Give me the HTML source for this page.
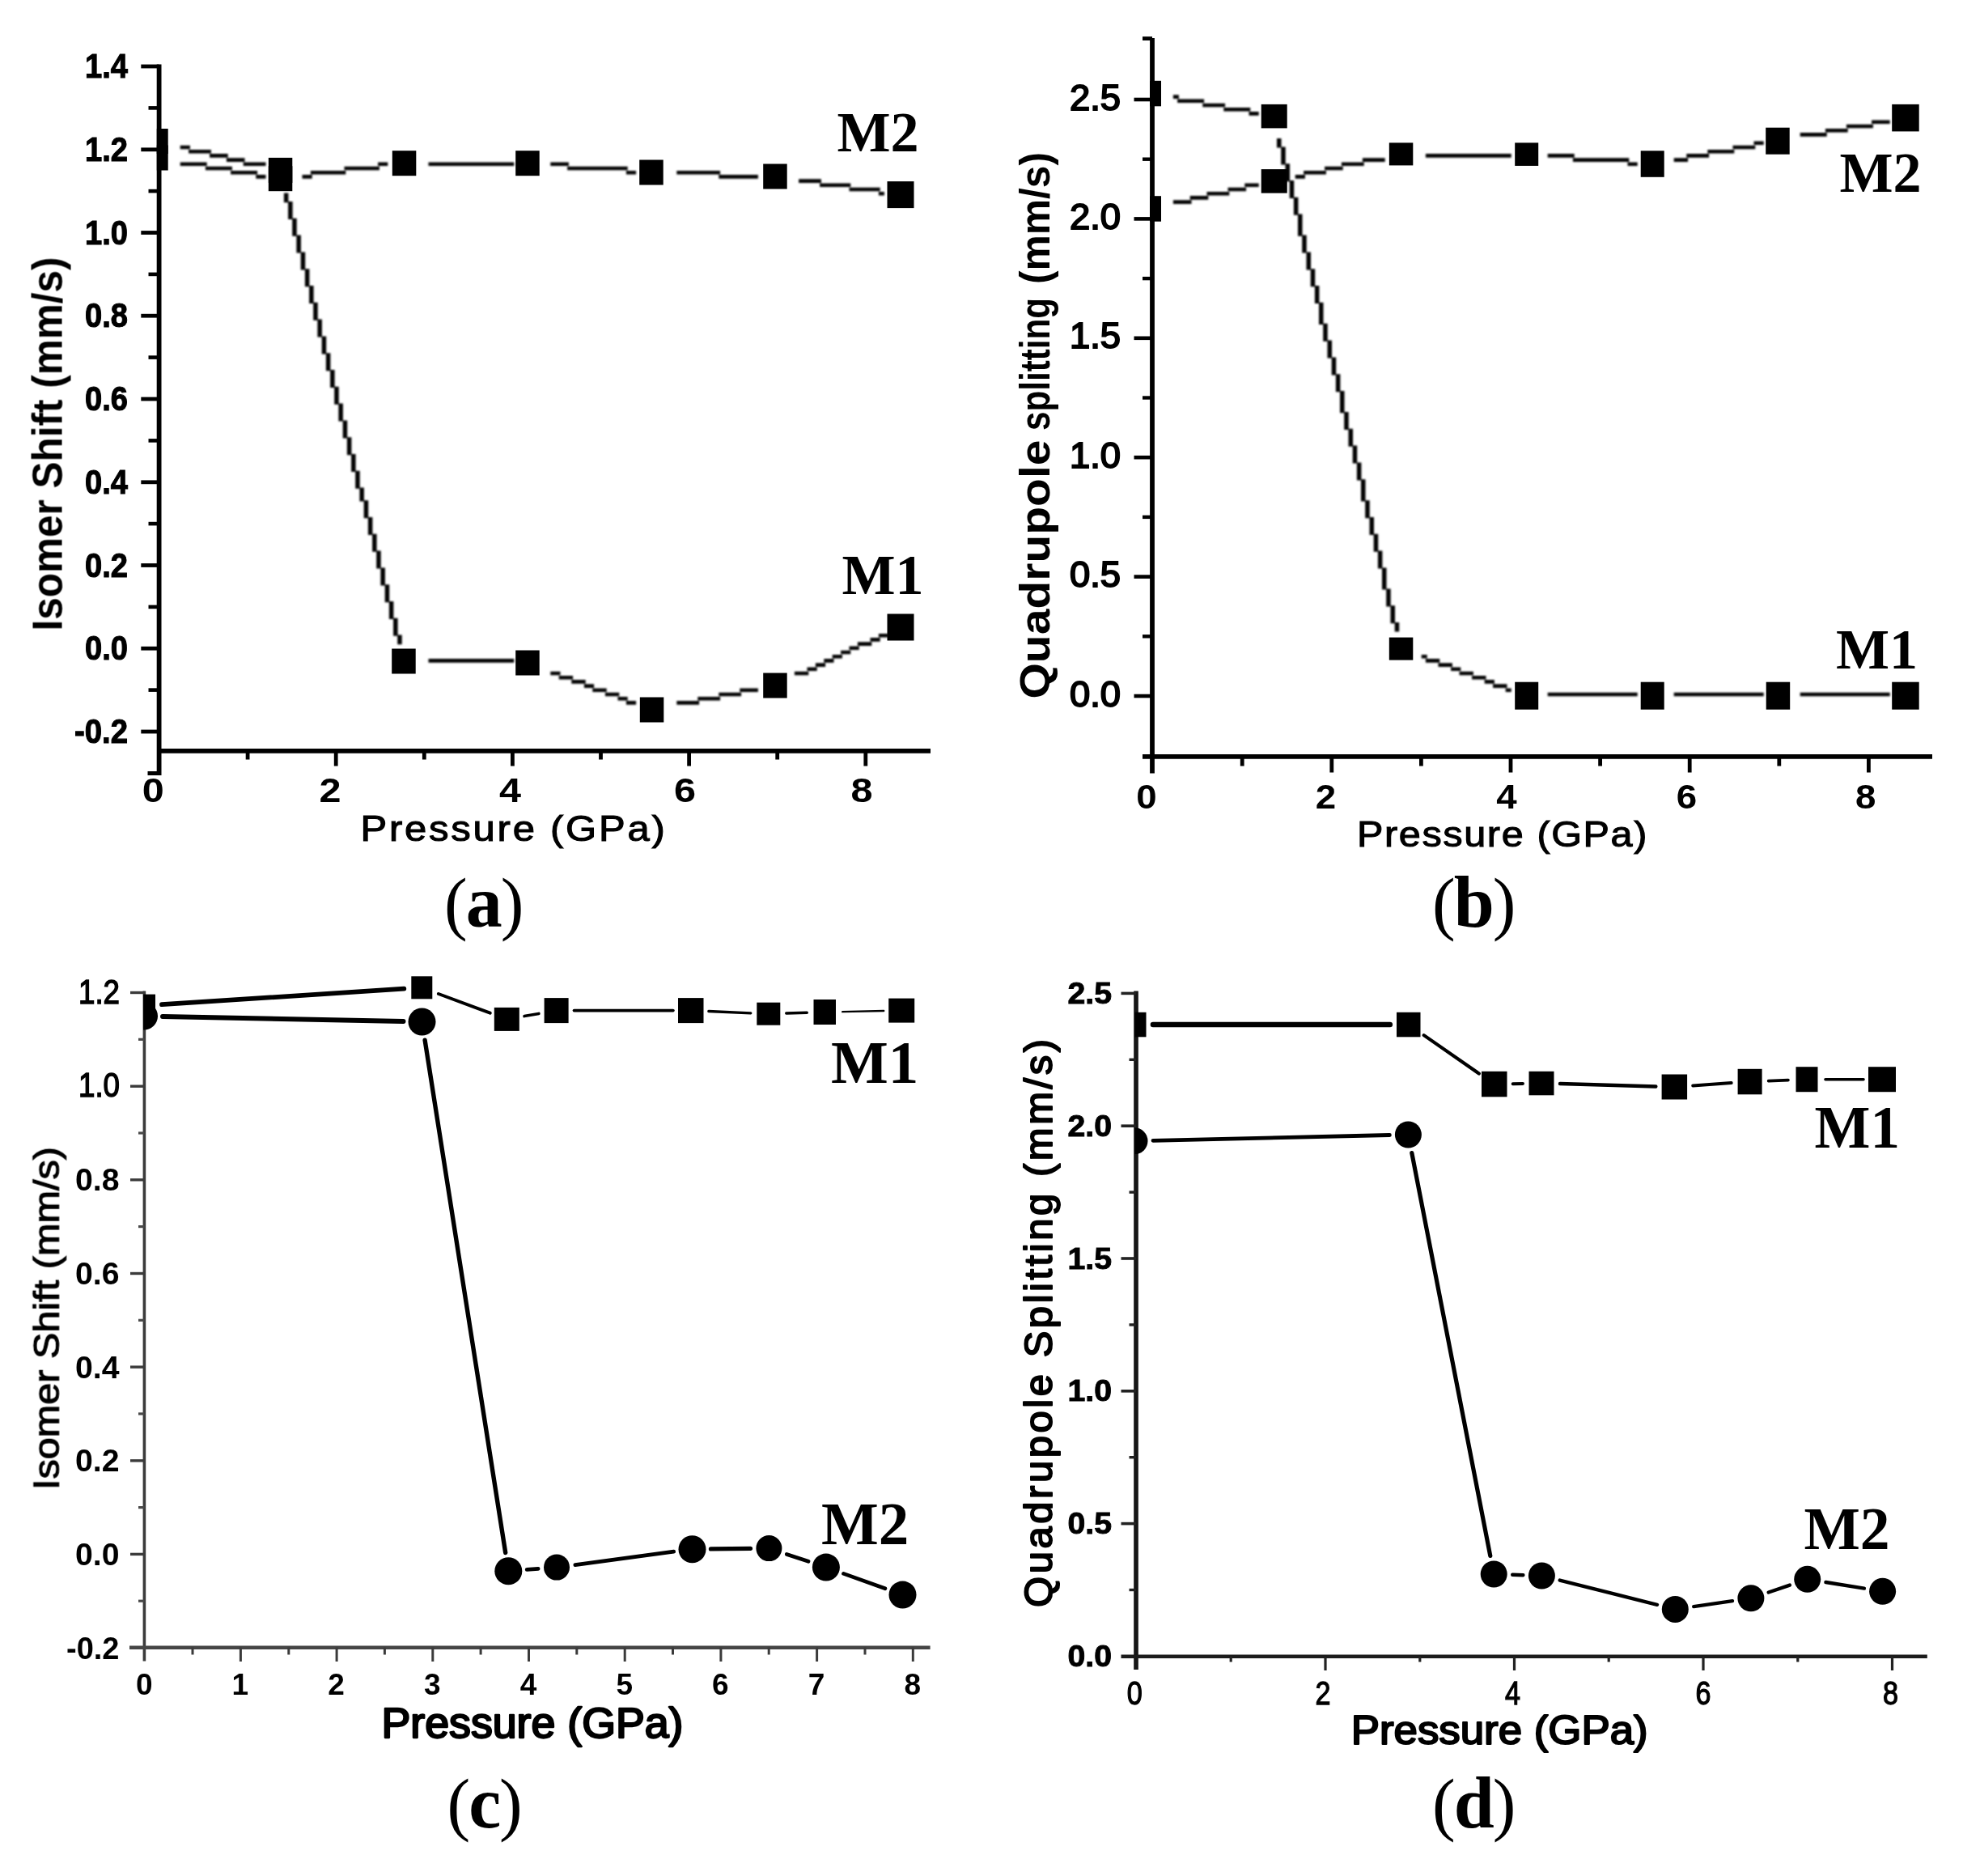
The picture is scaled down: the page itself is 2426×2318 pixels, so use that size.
<!DOCTYPE html>
<html lang="en">
<head>
<meta charset="utf-8">
<title>Isomer shift and quadrupole splitting versus pressure</title>
<style>
html,body{margin:0;padding:0;background:#fff;}
body{width:2426px;height:2318px;overflow:hidden;}
svg{display:block;}
text{fill:#000;}
</style>
</head>
<body>
<svg width="2426" height="2318" viewBox="0 0 2426 2318">
<defs>
<filter id="b1" x="-2%" y="-2%" width="104%" height="104%"><feGaussianBlur stdDeviation="0.7"/></filter>
<filter id="b2" x="-50%" y="-50%" width="200%" height="200%"><feGaussianBlur stdDeviation="0.8"/></filter>
<clipPath id="cA"><rect x="193.8" y="0" width="1100" height="1000"/></clipPath>
<clipPath id="cB"><rect x="1421" y="0" width="1100" height="1000"/></clipPath>
<clipPath id="cC"><rect x="177" y="1160" width="1100" height="1000"/></clipPath>
<clipPath id="cD"><rect x="1402.5" y="1160" width="1100" height="1000"/></clipPath>
</defs>
<rect x="0" y="0" width="2426" height="2318" fill="#fff"/>
<g filter="url(#b1)">
<line x1="196.6" y1="79.5" x2="196.6" y2="958" stroke="#000" stroke-width="5.8" stroke-linecap="butt"/>
<line x1="194.1" y1="927.8" x2="1150" y2="927.8" stroke="#000" stroke-width="5.8" stroke-linecap="butt"/>
<line x1="174.3" y1="82" x2="196.6" y2="82" stroke="#000" stroke-width="4.8" stroke-linecap="butt"/>
<line x1="174.3" y1="184.8" x2="196.6" y2="184.8" stroke="#000" stroke-width="4.8" stroke-linecap="butt"/>
<line x1="174.3" y1="287.5" x2="196.6" y2="287.5" stroke="#000" stroke-width="4.8" stroke-linecap="butt"/>
<line x1="174.3" y1="390.2" x2="196.6" y2="390.2" stroke="#000" stroke-width="4.8" stroke-linecap="butt"/>
<line x1="174.3" y1="493" x2="196.6" y2="493" stroke="#000" stroke-width="4.8" stroke-linecap="butt"/>
<line x1="174.3" y1="595.8" x2="196.6" y2="595.8" stroke="#000" stroke-width="4.8" stroke-linecap="butt"/>
<line x1="174.3" y1="698.5" x2="196.6" y2="698.5" stroke="#000" stroke-width="4.8" stroke-linecap="butt"/>
<line x1="174.3" y1="801.2" x2="196.6" y2="801.2" stroke="#000" stroke-width="4.8" stroke-linecap="butt"/>
<line x1="174.3" y1="904" x2="196.6" y2="904" stroke="#000" stroke-width="4.8" stroke-linecap="butt"/>
<line x1="183.5" y1="133.4" x2="196.6" y2="133.4" stroke="#000" stroke-width="4.6" stroke-linecap="butt"/>
<line x1="183.5" y1="236.1" x2="196.6" y2="236.1" stroke="#000" stroke-width="4.6" stroke-linecap="butt"/>
<line x1="183.5" y1="338.9" x2="196.6" y2="338.9" stroke="#000" stroke-width="4.6" stroke-linecap="butt"/>
<line x1="183.5" y1="441.6" x2="196.6" y2="441.6" stroke="#000" stroke-width="4.6" stroke-linecap="butt"/>
<line x1="183.5" y1="544.4" x2="196.6" y2="544.4" stroke="#000" stroke-width="4.6" stroke-linecap="butt"/>
<line x1="183.5" y1="647.1" x2="196.6" y2="647.1" stroke="#000" stroke-width="4.6" stroke-linecap="butt"/>
<line x1="183.5" y1="749.9" x2="196.6" y2="749.9" stroke="#000" stroke-width="4.6" stroke-linecap="butt"/>
<line x1="183.5" y1="852.6" x2="196.6" y2="852.6" stroke="#000" stroke-width="4.6" stroke-linecap="butt"/>
<line x1="182.5" y1="955.5" x2="196.6" y2="955.5" stroke="#000" stroke-width="5" stroke-linecap="butt"/>
<line x1="306.1" y1="927.8" x2="306.1" y2="938.5" stroke="#000" stroke-width="4.8" stroke-linecap="butt"/>
<line x1="415.2" y1="927.8" x2="415.2" y2="946.5" stroke="#000" stroke-width="4.8" stroke-linecap="butt"/>
<line x1="524.3" y1="927.8" x2="524.3" y2="938.5" stroke="#000" stroke-width="4.8" stroke-linecap="butt"/>
<line x1="633.4" y1="927.8" x2="633.4" y2="946.5" stroke="#000" stroke-width="4.8" stroke-linecap="butt"/>
<line x1="742.5" y1="927.8" x2="742.5" y2="938.5" stroke="#000" stroke-width="4.8" stroke-linecap="butt"/>
<line x1="851.6" y1="927.8" x2="851.6" y2="946.5" stroke="#000" stroke-width="4.8" stroke-linecap="butt"/>
<line x1="960.7" y1="927.8" x2="960.7" y2="938.5" stroke="#000" stroke-width="4.8" stroke-linecap="butt"/>
<line x1="1069.8" y1="927.8" x2="1069.8" y2="946.5" stroke="#000" stroke-width="4.8" stroke-linecap="butt"/>
<path filter="url(#b2)" d="M222.7 200.5h33v4.6h-33zM253.9 205.7h33v4.6h-33zM285.1 210.9h33v4.6h-33zM316.3 216.1h12.2v4.6h-12.2z"/>
<path filter="url(#b2)" d="M373.5 216.1h12.2v4.6h-12.2zM383.9 210.9h43.4v4.6h-43.4zM425.5 205.7h43.4v4.6h-43.4zM467.1 200.5h12.2v4.6h-12.2z"/>
<path filter="url(#b2)" d="M529.5 200.5h105.8v4.6h-105.8z"/>
<path filter="url(#b2)" d="M680.3 200.5h22.6v4.6h-22.6zM701.1 205.7h74.6v4.6h-74.6zM773.9 210.9h12.2v4.6h-12.2z"/>
<path filter="url(#b2)" d="M836.3 210.9h53.8v4.6h-53.8zM888.3 216.1h48.6v4.6h-48.6z"/>
<path filter="url(#b2)" d="M987.1 221.3h27.8v4.6h-27.8zM1013.1 226.5h38.2v4.6h-38.2zM1049.5 231.7h38.2v4.6h-38.2zM1085.9 236.9h7v4.6h-7z"/>
<path filter="url(#b2)" d="M222.7 179.7h12.2v4.6h-12.2zM233.1 184.9h27.8v4.6h-27.8zM259.1 190.1h22.6v4.6h-22.6zM279.9 195.3h22.6v4.6h-22.6zM300.7 200.5h27.8v4.6h-27.8z"/>
<path filter="url(#b2)" d="M350.9 238.6v11.6h5.5v-11.6zM356.1 249v22h5.5v-22zM361.2 269.8v22h5.5v-22zM366.4 290.6v22h5.5v-22zM371.7 311.4v22h5.5v-22zM376.9 332.2v22h5.5v-22zM382.1 353v22h5.5v-22zM387.2 373.8v22h5.5v-22zM392.4 394.6v22h5.5v-22zM397.7 415.4v22h5.5v-22zM402.9 436.2v22h5.5v-22zM408.1 457v22h5.5v-22zM413.2 477.8v22h5.5v-22zM418.4 498.6v22h5.5v-22zM423.7 519.4v22h5.5v-22zM428.9 540.2v22h5.5v-22zM434.1 561v22h5.5v-22zM439.2 581.8v22h5.5v-22zM444.4 602.6v16.8h5.5v-16.8zM449.7 618.2v22h5.5v-22zM454.9 639v22h5.5v-22zM460.1 659.8v22h5.5v-22zM465.2 680.6v22h5.5v-22zM470.4 701.4v22h5.5v-22zM475.7 722.2v22h5.5v-22zM480.9 743v22h5.5v-22zM486.1 763.8v22h5.5v-22zM491.2 784.6v11.6h5.5v-11.6z"/>
<path filter="url(#b2)" d="M529.5 814.1h105.8v4.6h-105.8z"/>
<path filter="url(#b2)" d="M680.3 829.7h12.2v4.6h-12.2zM690.7 834.9h17.4v4.6h-17.4zM706.3 840.1h17.4v4.6h-17.4zM721.9 845.3h12.2v4.6h-12.2zM732.3 850.5h17.4v4.6h-17.4zM747.9 855.7h17.4v4.6h-17.4zM763.5 860.9h12.2v4.6h-12.2zM773.9 866.1h12.2v4.6h-12.2z"/>
<path filter="url(#b2)" d="M836.3 866.1h27.8v4.6h-27.8zM862.3 860.9h27.8v4.6h-27.8zM888.3 855.7h27.8v4.6h-27.8zM914.3 850.5h22.6v4.6h-22.6z"/>
<path filter="url(#b2)" d="M981.9 829.7h17.4v4.6h-17.4zM997.5 824.5h12.2v4.6h-12.2zM1007.9 819.3h12.2v4.6h-12.2zM1018.3 814.1h12.2v4.6h-12.2zM1028.7 808.9h12.2v4.6h-12.2zM1039.1 803.7h12.2v4.6h-12.2zM1049.5 798.5h12.2v4.6h-12.2zM1059.9 793.3h17.4v4.6h-17.4zM1075.5 788.1h12.2v4.6h-12.2zM1085.9 782.9h12.2v4.6h-12.2z"/>
<g clip-path="url(#cA)">
<rect x="178.2" y="179.5" width="29.5" height="31"/>
<rect x="331.8" y="205.2" width="29.5" height="31"/>
<rect x="484.8" y="186.2" width="29.5" height="31"/>
<rect x="637.2" y="186.2" width="29.5" height="31"/>
<rect x="790.2" y="197.5" width="29.5" height="31"/>
<rect x="943.2" y="202.5" width="29.5" height="31"/>
<rect x="1096.5" y="224.1" width="33" height="33"/>
<rect x="178.2" y="159" width="29.5" height="31"/>
<rect x="331.8" y="194.9" width="29.5" height="31"/>
<rect x="484.2" y="801.5" width="29.5" height="31"/>
<rect x="637.2" y="803.5" width="29.5" height="31"/>
<rect x="790.8" y="861.5" width="29.5" height="31"/>
<rect x="943.2" y="831.5" width="29.5" height="31"/>
<rect x="1096.5" y="758.5" width="33" height="33"/>
</g>
<text x="158" y="96" font-size="42" font-weight="bold" font-family='"Liberation Sans", Arial, sans-serif' text-anchor="end" textLength="53" lengthAdjust="spacingAndGlyphs" stroke="#000" stroke-width="1.1">1.4</text>
<text x="158" y="198.8" font-size="42" font-weight="bold" font-family='"Liberation Sans", Arial, sans-serif' text-anchor="end" textLength="53" lengthAdjust="spacingAndGlyphs" stroke="#000" stroke-width="1.1">1.2</text>
<text x="158" y="301.5" font-size="42" font-weight="bold" font-family='"Liberation Sans", Arial, sans-serif' text-anchor="end" textLength="53" lengthAdjust="spacingAndGlyphs" stroke="#000" stroke-width="1.1">1.0</text>
<text x="158" y="404.2" font-size="42" font-weight="bold" font-family='"Liberation Sans", Arial, sans-serif' text-anchor="end" textLength="53" lengthAdjust="spacingAndGlyphs" stroke="#000" stroke-width="1.1">0.8</text>
<text x="158" y="507" font-size="42" font-weight="bold" font-family='"Liberation Sans", Arial, sans-serif' text-anchor="end" textLength="53" lengthAdjust="spacingAndGlyphs" stroke="#000" stroke-width="1.1">0.6</text>
<text x="158" y="609.8" font-size="42" font-weight="bold" font-family='"Liberation Sans", Arial, sans-serif' text-anchor="end" textLength="53" lengthAdjust="spacingAndGlyphs" stroke="#000" stroke-width="1.1">0.4</text>
<text x="158" y="712.5" font-size="42" font-weight="bold" font-family='"Liberation Sans", Arial, sans-serif' text-anchor="end" textLength="53" lengthAdjust="spacingAndGlyphs" stroke="#000" stroke-width="1.1">0.2</text>
<text x="158" y="815.2" font-size="42" font-weight="bold" font-family='"Liberation Sans", Arial, sans-serif' text-anchor="end" textLength="53" lengthAdjust="spacingAndGlyphs" stroke="#000" stroke-width="1.1">0.0</text>
<text x="158" y="918" font-size="42" font-weight="bold" font-family='"Liberation Sans", Arial, sans-serif' text-anchor="end" textLength="66" lengthAdjust="spacingAndGlyphs" stroke="#000" stroke-width="1.1">-0.2</text>
<text x="175.8" y="991" font-size="43" font-weight="bold" font-family='"Liberation Sans", Arial, sans-serif' text-anchor="start" textLength="27" lengthAdjust="spacingAndGlyphs" >0</text>
<text x="394.5" y="991" font-size="43" font-weight="bold" font-family='"Liberation Sans", Arial, sans-serif' text-anchor="start" textLength="27" lengthAdjust="spacingAndGlyphs" >2</text>
<text x="617" y="991" font-size="43" font-weight="bold" font-family='"Liberation Sans", Arial, sans-serif' text-anchor="start" textLength="27" lengthAdjust="spacingAndGlyphs" >4</text>
<text x="833" y="991" font-size="43" font-weight="bold" font-family='"Liberation Sans", Arial, sans-serif' text-anchor="start" textLength="27" lengthAdjust="spacingAndGlyphs" >6</text>
<text x="1051.5" y="991" font-size="43" font-weight="bold" font-family='"Liberation Sans", Arial, sans-serif' text-anchor="start" textLength="27" lengthAdjust="spacingAndGlyphs" >8</text>
<text x="445.5" y="1039" font-size="44" font-weight="normal" font-family='"Liberation Sans", Arial, sans-serif' text-anchor="start" textLength="379" lengthAdjust="spacingAndGlyphs" letter-spacing="2.5" stroke="#000" stroke-width="1.1">Pressure (GPa)</text>
<text x="76" y="779.5" font-size="51" font-weight="bold" font-family='"Liberation Sans", Arial, sans-serif' text-anchor="start" textLength="462" lengthAdjust="spacingAndGlyphs" transform="rotate(-90 76 779.5)" >Isomer Shift (mm/s)</text>
</g>
<text x="1034.5" y="187" font-size="70" font-weight="bold" font-family='"Liberation Serif", "Times New Roman", serif' text-anchor="start" >M2</text>
<text x="1040.5" y="734" font-size="70" font-weight="bold" font-family='"Liberation Serif", "Times New Roman", serif' text-anchor="start" >M1</text>
<text x="549" y="1145" font-size="86" letter-spacing="-2" font-family='"Liberation Serif", "Times New Roman", serif'><tspan dy="-0.5">(</tspan><tspan font-weight="bold" font-size="90" dy="0.5">a</tspan><tspan dy="-0.5">)</tspan></text>
<g filter="url(#b1)">
<line x1="1424" y1="47" x2="1424" y2="955.5" stroke="#000" stroke-width="5.8" stroke-linecap="butt"/>
<line x1="1412" y1="934.8" x2="2388" y2="934.8" stroke="#000" stroke-width="5.8" stroke-linecap="butt"/>
<line x1="1412" y1="47.6" x2="1424" y2="47.6" stroke="#000" stroke-width="4.8" stroke-linecap="butt"/>
<line x1="1401.5" y1="123" x2="1424" y2="123" stroke="#000" stroke-width="4.6" stroke-linecap="butt"/>
<line x1="1401.5" y1="270.4" x2="1424" y2="270.4" stroke="#000" stroke-width="4.6" stroke-linecap="butt"/>
<line x1="1401.5" y1="417.8" x2="1424" y2="417.8" stroke="#000" stroke-width="4.6" stroke-linecap="butt"/>
<line x1="1401.5" y1="565.2" x2="1424" y2="565.2" stroke="#000" stroke-width="4.6" stroke-linecap="butt"/>
<line x1="1401.5" y1="712.6" x2="1424" y2="712.6" stroke="#000" stroke-width="4.6" stroke-linecap="butt"/>
<line x1="1401.5" y1="860" x2="1424" y2="860" stroke="#000" stroke-width="4.6" stroke-linecap="butt"/>
<line x1="1412" y1="196.7" x2="1424" y2="196.7" stroke="#000" stroke-width="4.4" stroke-linecap="butt"/>
<line x1="1412" y1="344.1" x2="1424" y2="344.1" stroke="#000" stroke-width="4.4" stroke-linecap="butt"/>
<line x1="1412" y1="491.5" x2="1424" y2="491.5" stroke="#000" stroke-width="4.4" stroke-linecap="butt"/>
<line x1="1412" y1="638.9" x2="1424" y2="638.9" stroke="#000" stroke-width="4.4" stroke-linecap="butt"/>
<line x1="1412" y1="786.3" x2="1424" y2="786.3" stroke="#000" stroke-width="4.4" stroke-linecap="butt"/>
<line x1="1535.2" y1="934.8" x2="1535.2" y2="946.5" stroke="#000" stroke-width="4.8" stroke-linecap="butt"/>
<line x1="1645.8" y1="934.8" x2="1645.8" y2="954.5" stroke="#000" stroke-width="4.8" stroke-linecap="butt"/>
<line x1="1756.4" y1="934.8" x2="1756.4" y2="946.5" stroke="#000" stroke-width="4.8" stroke-linecap="butt"/>
<line x1="1867" y1="934.8" x2="1867" y2="954.5" stroke="#000" stroke-width="4.8" stroke-linecap="butt"/>
<line x1="1977.6" y1="934.8" x2="1977.6" y2="946.5" stroke="#000" stroke-width="4.8" stroke-linecap="butt"/>
<line x1="2088.2" y1="934.8" x2="2088.2" y2="954.5" stroke="#000" stroke-width="4.8" stroke-linecap="butt"/>
<line x1="2198.8" y1="934.8" x2="2198.8" y2="946.5" stroke="#000" stroke-width="4.8" stroke-linecap="butt"/>
<line x1="2309.4" y1="934.8" x2="2309.4" y2="954.5" stroke="#000" stroke-width="4.8" stroke-linecap="butt"/>
<path filter="url(#b2)" d="M1449.9 117.3h7v4.6h-7zM1455.1 122.5h33v4.6h-33zM1486.3 127.7h27.8v4.6h-27.8zM1512.3 132.9h33v4.6h-33zM1543.5 138.1h12.2v4.6h-12.2z"/>
<path filter="url(#b2)" d="M1578 171v11.6h5.5v-11.6zM1583.2 181.4v22h5.5v-22zM1588.5 202.2v22h5.5v-22zM1593.7 223v22h5.5v-22zM1598.9 243.8v22h5.5v-22zM1604 264.6v27.2h5.5v-27.2zM1609.2 290.6v22h5.5v-22zM1614.5 311.4v22h5.5v-22zM1619.7 332.2v22h5.5v-22zM1624.9 353v22h5.5v-22zM1630 373.8v27.2h5.5v-27.2zM1635.2 399.8v22h5.5v-22zM1640.5 420.6v22h5.5v-22zM1645.7 441.4v22h5.5v-22zM1650.9 462.2v22h5.5v-22zM1656 483v27.2h5.5v-27.2zM1661.2 509v22h5.5v-22zM1666.5 529.8v22h5.5v-22zM1671.7 550.6v22h5.5v-22zM1676.9 571.4v22h5.5v-22zM1682 592.2v27.2h5.5v-27.2zM1687.2 618.2v22h5.5v-22zM1692.5 639v22h5.5v-22zM1697.7 659.8v22h5.5v-22zM1702.9 680.6v22h5.5v-22zM1708 701.4v27.2h5.5v-27.2zM1713.2 727.4v22h5.5v-22zM1718.5 748.2v22h5.5v-22zM1723.7 769v11.6h5.5v-11.6z"/>
<path filter="url(#b2)" d="M1756.7 808.9h7v4.6h-7zM1761.9 814.1h17.4v4.6h-17.4zM1777.5 819.3h17.4v4.6h-17.4zM1793.1 824.5h12.2v4.6h-12.2zM1803.5 829.7h17.4v4.6h-17.4zM1819.1 834.9h17.4v4.6h-17.4zM1834.7 840.1h12.2v4.6h-12.2zM1845.1 845.3h17.4v4.6h-17.4zM1860.7 850.5h7v4.6h-7z"/>
<path filter="url(#b2)" d="M1912.7 855.7h111v4.6h-111z"/>
<path filter="url(#b2)" d="M2068.7 855.7h111v4.6h-111z"/>
<path filter="url(#b2)" d="M2224.7 855.7h111v4.6h-111z"/>
<path filter="url(#b2)" d="M1449.9 247.3h22.6v4.6h-22.6zM1470.7 242.1h22.6v4.6h-22.6zM1491.5 236.9h27.8v4.6h-27.8zM1517.5 231.7h22.6v4.6h-22.6zM1538.3 226.5h17.4v4.6h-17.4z"/>
<path filter="url(#b2)" d="M1600.7 216.1h12.2v4.6h-12.2zM1611.1 210.9h27.8v4.6h-27.8zM1637.1 205.7h22.6v4.6h-22.6zM1657.9 200.5h27.8v4.6h-27.8zM1683.9 195.3h27.8v4.6h-27.8z"/>
<path filter="url(#b2)" d="M1761.9 190.1h105.8v4.6h-105.8z"/>
<path filter="url(#b2)" d="M1912.7 190.1h33v4.6h-33zM1943.9 195.3h69.4v4.6h-69.4zM2011.5 200.5h12.2v4.6h-12.2z"/>
<path filter="url(#b2)" d="M2068.7 195.3h17.4v4.6h-17.4zM2084.3 190.1h27.8v4.6h-27.8zM2110.3 184.9h33v4.6h-33zM2141.5 179.7h27.8v4.6h-27.8zM2167.5 174.5h12.2v4.6h-12.2z"/>
<path filter="url(#b2)" d="M2224.7 164.1h33v4.6h-33zM2255.9 158.9h27.8v4.6h-27.8zM2281.9 153.7h33v4.6h-33zM2313.1 148.5h22.6v4.6h-22.6z"/>
<g clip-path="url(#cB)">
<rect x="1405" y="242.2" width="30" height="31.5"/>
<rect x="1558.7" y="209.1" width="32" height="29.5"/>
<rect x="1716.8" y="176.4" width="29.5" height="28"/>
<rect x="1872.2" y="176.4" width="29" height="28.5"/>
<rect x="2027.7" y="186.3" width="29" height="32.5"/>
<rect x="2182.2" y="157.7" width="29.5" height="33"/>
<rect x="2338.2" y="128.9" width="33.5" height="33.5"/>
<rect x="1405" y="99.8" width="30" height="31.5"/>
<rect x="1558.7" y="128.9" width="32" height="29.5"/>
<rect x="1716.8" y="787.6" width="29.5" height="28"/>
<rect x="1872.2" y="842.7" width="29" height="34"/>
<rect x="2027.7" y="842.7" width="29" height="34"/>
<rect x="2182.7" y="842.7" width="29.5" height="34"/>
<rect x="2338.2" y="842.7" width="33.5" height="34"/>
</g>
<text x="1322" y="135.5" font-size="45" font-weight="normal" font-family='"Liberation Sans", Arial, sans-serif' text-anchor="start" textLength="63" lengthAdjust="spacingAndGlyphs" stroke="#000" stroke-width="2">2.5</text>
<text x="1322" y="282.9" font-size="45" font-weight="normal" font-family='"Liberation Sans", Arial, sans-serif' text-anchor="start" textLength="63" lengthAdjust="spacingAndGlyphs" stroke="#000" stroke-width="2">2.0</text>
<text x="1322" y="430.3" font-size="45" font-weight="normal" font-family='"Liberation Sans", Arial, sans-serif' text-anchor="start" textLength="63" lengthAdjust="spacingAndGlyphs" stroke="#000" stroke-width="2">1.5</text>
<text x="1322" y="577.7" font-size="45" font-weight="normal" font-family='"Liberation Sans", Arial, sans-serif' text-anchor="start" textLength="63" lengthAdjust="spacingAndGlyphs" stroke="#000" stroke-width="2">1.0</text>
<text x="1322" y="725.1" font-size="45" font-weight="normal" font-family='"Liberation Sans", Arial, sans-serif' text-anchor="start" textLength="63" lengthAdjust="spacingAndGlyphs" stroke="#000" stroke-width="2">0.5</text>
<text x="1322" y="872.5" font-size="45" font-weight="normal" font-family='"Liberation Sans", Arial, sans-serif' text-anchor="start" textLength="63" lengthAdjust="spacingAndGlyphs" stroke="#000" stroke-width="2">0.0</text>
<text x="1404.3" y="999" font-size="42" font-weight="bold" font-family='"Liberation Sans", Arial, sans-serif' text-anchor="start" textLength="25.4" lengthAdjust="spacingAndGlyphs" >0</text>
<text x="1625.8" y="999" font-size="42" font-weight="bold" font-family='"Liberation Sans", Arial, sans-serif' text-anchor="start" textLength="25.4" lengthAdjust="spacingAndGlyphs" >2</text>
<text x="1849.3" y="999" font-size="42" font-weight="bold" font-family='"Liberation Sans", Arial, sans-serif' text-anchor="start" textLength="25.4" lengthAdjust="spacingAndGlyphs" >4</text>
<text x="2071.8" y="999" font-size="42" font-weight="bold" font-family='"Liberation Sans", Arial, sans-serif' text-anchor="start" textLength="25.4" lengthAdjust="spacingAndGlyphs" >6</text>
<text x="2293.1" y="999" font-size="42" font-weight="bold" font-family='"Liberation Sans", Arial, sans-serif' text-anchor="start" textLength="25.4" lengthAdjust="spacingAndGlyphs" >8</text>
<text x="1677" y="1046" font-size="45" font-weight="normal" font-family='"Liberation Sans", Arial, sans-serif' text-anchor="start" textLength="360" lengthAdjust="spacingAndGlyphs" letter-spacing="1.5" stroke="#000" stroke-width="1.1">Pressure (GPa)</text>
<text x="1297" y="863.5" font-size="52" font-weight="bold" font-family='"Liberation Sans", Arial, sans-serif' text-anchor="start" textLength="320" lengthAdjust="spacingAndGlyphs" transform="rotate(-90 1297 863.5)" >Quadrupole</text>
<text x="1297" y="532" font-size="52" font-weight="bold" font-family='"Liberation Sans", Arial, sans-serif' text-anchor="start" textLength="164" lengthAdjust="spacingAndGlyphs" transform="rotate(-90 1297 532)" >splitting</text>
<text x="1297" y="351" font-size="52" font-weight="bold" font-family='"Liberation Sans", Arial, sans-serif' text-anchor="start" textLength="163" lengthAdjust="spacingAndGlyphs" transform="rotate(-90 1297 351)" >(mm/s)</text>
</g>
<text x="2273.5" y="236.5" font-size="70" font-weight="bold" font-family='"Liberation Serif", "Times New Roman", serif' text-anchor="start" >M2</text>
<text x="2269" y="825.7" font-size="70" font-weight="bold" font-family='"Liberation Serif", "Times New Roman", serif' text-anchor="start" >M1</text>
<text x="1770" y="1145" font-size="86" letter-spacing="-2" font-family='"Liberation Serif", "Times New Roman", serif'><tspan dy="-0.5">(</tspan><tspan font-weight="bold" font-size="90" dy="0.5">b</tspan><tspan dy="-0.5">)</tspan></text>
<g filter="url(#b1)">
<line x1="178.4" y1="1224.5" x2="178.4" y2="2052.5" stroke="#3a3a3a" stroke-width="3.6" stroke-linecap="butt"/>
<line x1="160" y1="2035.8" x2="1149.6" y2="2035.8" stroke="#444" stroke-width="4.6" stroke-linecap="butt"/>
<line x1="161" y1="1226.5" x2="178.4" y2="1226.5" stroke="#3a3a3a" stroke-width="3.4" stroke-linecap="butt"/>
<line x1="161" y1="1342.2" x2="178.4" y2="1342.2" stroke="#3a3a3a" stroke-width="3.4" stroke-linecap="butt"/>
<line x1="161" y1="1457.8" x2="178.4" y2="1457.8" stroke="#3a3a3a" stroke-width="3.4" stroke-linecap="butt"/>
<line x1="161" y1="1573.5" x2="178.4" y2="1573.5" stroke="#3a3a3a" stroke-width="3.4" stroke-linecap="butt"/>
<line x1="161" y1="1689.1" x2="178.4" y2="1689.1" stroke="#3a3a3a" stroke-width="3.4" stroke-linecap="butt"/>
<line x1="161" y1="1804.8" x2="178.4" y2="1804.8" stroke="#3a3a3a" stroke-width="3.4" stroke-linecap="butt"/>
<line x1="161" y1="1920.4" x2="178.4" y2="1920.4" stroke="#3a3a3a" stroke-width="3.4" stroke-linecap="butt"/>
<line x1="171" y1="1284.3" x2="178.4" y2="1284.3" stroke="#4a4a4a" stroke-width="3.2" stroke-linecap="butt"/>
<line x1="171" y1="1400" x2="178.4" y2="1400" stroke="#4a4a4a" stroke-width="3.2" stroke-linecap="butt"/>
<line x1="171" y1="1515.6" x2="178.4" y2="1515.6" stroke="#4a4a4a" stroke-width="3.2" stroke-linecap="butt"/>
<line x1="171" y1="1631.3" x2="178.4" y2="1631.3" stroke="#4a4a4a" stroke-width="3.2" stroke-linecap="butt"/>
<line x1="171" y1="1746.9" x2="178.4" y2="1746.9" stroke="#4a4a4a" stroke-width="3.2" stroke-linecap="butt"/>
<line x1="171" y1="1862.6" x2="178.4" y2="1862.6" stroke="#4a4a4a" stroke-width="3.2" stroke-linecap="butt"/>
<line x1="171" y1="1978.2" x2="178.4" y2="1978.2" stroke="#4a4a4a" stroke-width="3.2" stroke-linecap="butt"/>
<line x1="238" y1="2035.8" x2="238" y2="2044.5" stroke="#3a3a3a" stroke-width="3" stroke-linecap="butt"/>
<line x1="297.4" y1="2035.8" x2="297.4" y2="2053" stroke="#3a3a3a" stroke-width="3" stroke-linecap="butt"/>
<line x1="356.8" y1="2035.8" x2="356.8" y2="2044.5" stroke="#3a3a3a" stroke-width="3" stroke-linecap="butt"/>
<line x1="416.1" y1="2035.8" x2="416.1" y2="2053" stroke="#3a3a3a" stroke-width="3" stroke-linecap="butt"/>
<line x1="475.4" y1="2035.8" x2="475.4" y2="2044.5" stroke="#3a3a3a" stroke-width="3" stroke-linecap="butt"/>
<line x1="534.8" y1="2035.8" x2="534.8" y2="2053" stroke="#3a3a3a" stroke-width="3" stroke-linecap="butt"/>
<line x1="594.1" y1="2035.8" x2="594.1" y2="2044.5" stroke="#3a3a3a" stroke-width="3" stroke-linecap="butt"/>
<line x1="653.5" y1="2035.8" x2="653.5" y2="2053" stroke="#3a3a3a" stroke-width="3" stroke-linecap="butt"/>
<line x1="712.8" y1="2035.8" x2="712.8" y2="2044.5" stroke="#3a3a3a" stroke-width="3" stroke-linecap="butt"/>
<line x1="772.2" y1="2035.8" x2="772.2" y2="2053" stroke="#3a3a3a" stroke-width="3" stroke-linecap="butt"/>
<line x1="831.5" y1="2035.8" x2="831.5" y2="2044.5" stroke="#3a3a3a" stroke-width="3" stroke-linecap="butt"/>
<line x1="890.9" y1="2035.8" x2="890.9" y2="2053" stroke="#3a3a3a" stroke-width="3" stroke-linecap="butt"/>
<line x1="950.2" y1="2035.8" x2="950.2" y2="2044.5" stroke="#3a3a3a" stroke-width="3" stroke-linecap="butt"/>
<line x1="1009.6" y1="2035.8" x2="1009.6" y2="2053" stroke="#3a3a3a" stroke-width="3" stroke-linecap="butt"/>
<line x1="1069" y1="2035.8" x2="1069" y2="2044.5" stroke="#3a3a3a" stroke-width="3" stroke-linecap="butt"/>
<line x1="1128.3" y1="2035.8" x2="1128.3" y2="2053" stroke="#3a3a3a" stroke-width="3" stroke-linecap="butt"/>
<line x1="200" y1="1241.2" x2="499.3" y2="1221.7" stroke="#000" stroke-width="5.8" stroke-linecap="round"/>
<line x1="541.9" y1="1228" x2="605.7" y2="1251.7" stroke="#000" stroke-width="4" stroke-linecap="round"/>
<line x1="648" y1="1255.6" x2="665.9" y2="1252.4" stroke="#000" stroke-width="3.6" stroke-linecap="round"/>
<line x1="709.6" y1="1248.6" x2="831.8" y2="1248.6" stroke="#000" stroke-width="3.9" stroke-linecap="round"/>
<line x1="875.8" y1="1249.5" x2="927.8" y2="1251.8" stroke="#000" stroke-width="3.3" stroke-linecap="round"/>
<line x1="971.8" y1="1252" x2="997.2" y2="1251.2" stroke="#000" stroke-width="3.6" stroke-linecap="round"/>
<line x1="1041.2" y1="1250.1" x2="1092.2" y2="1249" stroke="#000" stroke-width="2.4" stroke-linecap="round"/>
<line x1="201" y1="1256" x2="498.5" y2="1262" stroke="#000" stroke-width="6" stroke-linecap="round"/>
<line x1="525.1" y1="1285.2" x2="624.7" y2="1918.5" stroke="#000" stroke-width="5.4" stroke-linecap="round"/>
<line x1="651.2" y1="1939.4" x2="665.1" y2="1938.4" stroke="#000" stroke-width="4.8" stroke-linecap="round"/>
<line x1="710.8" y1="1933.6" x2="832.7" y2="1917.2" stroke="#000" stroke-width="4.7" stroke-linecap="round"/>
<line x1="878.5" y1="1913.9" x2="927.4" y2="1913.4" stroke="#000" stroke-width="5.4" stroke-linecap="round"/>
<line x1="972.2" y1="1920.4" x2="999.1" y2="1929.3" stroke="#000" stroke-width="4.7" stroke-linecap="round"/>
<line x1="1042.5" y1="1944.4" x2="1093.9" y2="1962.8" stroke="#000" stroke-width="4.7" stroke-linecap="round"/>
<g clip-path="url(#cC)">
<rect x="164" y="1228.6" width="28" height="28"/>
<rect x="508.3" y="1206.3" width="26" height="28"/>
<rect x="610.8" y="1244.9" width="31" height="29"/>
<rect x="672.6" y="1233.1" width="30" height="31"/>
<rect x="838" y="1233.1" width="31.5" height="31"/>
<rect x="935.3" y="1238.7" width="29" height="28"/>
<rect x="1005.5" y="1235" width="27.5" height="31"/>
<rect x="1098.2" y="1233.6" width="32" height="30"/>
<circle cx="178" cy="1255.5" r="17"/>
<circle cx="521.5" cy="1262.5" r="17"/>
<circle cx="628.3" cy="1941.2" r="17"/>
<circle cx="688" cy="1936.6" r="16"/>
<circle cx="855.5" cy="1914.2" r="17"/>
<circle cx="950.4" cy="1913.1" r="16"/>
<circle cx="1020.9" cy="1936.6" r="17"/>
<circle cx="1115.5" cy="1970.6" r="17"/>
</g>
<text x="97" y="1240" font-size="43" font-weight="normal" font-family='"Liberation Sans", Arial, sans-serif' text-anchor="start" textLength="51" lengthAdjust="spacingAndGlyphs" stroke="#000" stroke-width="1.5">1.2</text>
<text x="97" y="1354.7" font-size="43" font-weight="normal" font-family='"Liberation Sans", Arial, sans-serif' text-anchor="start" textLength="51" lengthAdjust="spacingAndGlyphs" stroke="#000" stroke-width="1.5">1.0</text>
<text x="147.5" y="1471.3" font-size="38.5" font-weight="bold" font-family='"Liberation Sans", Arial, sans-serif' text-anchor="end" textLength="54.5" lengthAdjust="spacingAndGlyphs" >0.8</text>
<text x="147.5" y="1587" font-size="38.5" font-weight="bold" font-family='"Liberation Sans", Arial, sans-serif' text-anchor="end" textLength="54.5" lengthAdjust="spacingAndGlyphs" >0.6</text>
<text x="147.5" y="1702.6" font-size="38.5" font-weight="bold" font-family='"Liberation Sans", Arial, sans-serif' text-anchor="end" textLength="54.5" lengthAdjust="spacingAndGlyphs" >0.4</text>
<text x="147.5" y="1818.2" font-size="38.5" font-weight="bold" font-family='"Liberation Sans", Arial, sans-serif' text-anchor="end" textLength="54.5" lengthAdjust="spacingAndGlyphs" >0.2</text>
<text x="147.5" y="1933.9" font-size="38.5" font-weight="bold" font-family='"Liberation Sans", Arial, sans-serif' text-anchor="end" textLength="54.5" lengthAdjust="spacingAndGlyphs" >0.0</text>
<text x="147.5" y="2049.6" font-size="38.5" font-weight="bold" font-family='"Liberation Sans", Arial, sans-serif' text-anchor="end" textLength="65.5" lengthAdjust="spacingAndGlyphs" >-0.2</text>
<text x="178.2" y="2093.5" font-size="37" font-weight="bold" font-family='"Liberation Sans", Arial, sans-serif' text-anchor="middle" >0</text>
<text x="296.9" y="2093.5" font-size="37" font-weight="bold" font-family='"Liberation Sans", Arial, sans-serif' text-anchor="middle" >1</text>
<text x="415.6" y="2093.5" font-size="37" font-weight="bold" font-family='"Liberation Sans", Arial, sans-serif' text-anchor="middle" >2</text>
<text x="534.3" y="2093.5" font-size="37" font-weight="bold" font-family='"Liberation Sans", Arial, sans-serif' text-anchor="middle" >3</text>
<text x="653" y="2093.5" font-size="37" font-weight="bold" font-family='"Liberation Sans", Arial, sans-serif' text-anchor="middle" >4</text>
<text x="771.7" y="2093.5" font-size="37" font-weight="bold" font-family='"Liberation Sans", Arial, sans-serif' text-anchor="middle" >5</text>
<text x="890.4" y="2093.5" font-size="37" font-weight="bold" font-family='"Liberation Sans", Arial, sans-serif' text-anchor="middle" >6</text>
<text x="1009.1" y="2093.5" font-size="37" font-weight="bold" font-family='"Liberation Sans", Arial, sans-serif' text-anchor="middle" >7</text>
<text x="1127.8" y="2093.5" font-size="37" font-weight="bold" font-family='"Liberation Sans", Arial, sans-serif' text-anchor="middle" >8</text>
<text x="471.5" y="2146.5" font-size="51" font-weight="normal" font-family='"Liberation Sans", Arial, sans-serif' text-anchor="start" textLength="373" lengthAdjust="spacingAndGlyphs" stroke="#000" stroke-width="2.3" stroke-linejoin="round">Pressure (GPa)</text>
<text x="72.7" y="1841" font-size="44.5" font-weight="normal" font-family='"Liberation Sans", Arial, sans-serif' text-anchor="start" textLength="424" lengthAdjust="spacingAndGlyphs" transform="rotate(-90 72.7 1841)" stroke="#000" stroke-width="1.1">Isomer Shift (mm/s)</text>
</g>
<text x="1027" y="1337.7" font-size="75" font-weight="bold" font-family='"Liberation Serif", "Times New Roman", serif' text-anchor="start" >M1</text>
<text x="1015" y="1908" font-size="75" font-weight="bold" font-family='"Liberation Serif", "Times New Roman", serif' text-anchor="start" >M2</text>
<text x="552.5" y="2258" font-size="86" letter-spacing="-2" font-family='"Liberation Serif", "Times New Roman", serif'><tspan dy="-0.5">(</tspan><tspan font-weight="bold" font-size="90" dy="0.5">c</tspan><tspan dy="-0.5">)</tspan></text>
<g filter="url(#b1)">
<line x1="1404" y1="1224.5" x2="1404" y2="2063" stroke="#151515" stroke-width="5.6" stroke-linecap="butt"/>
<line x1="1385.5" y1="2046.8" x2="2381.8" y2="2046.8" stroke="#1a1a1a" stroke-width="4.6" stroke-linecap="butt"/>
<line x1="1385.5" y1="1227.4" x2="1404" y2="1227.4" stroke="#222" stroke-width="3.6" stroke-linecap="butt"/>
<line x1="1385.5" y1="1391.2" x2="1404" y2="1391.2" stroke="#222" stroke-width="3.6" stroke-linecap="butt"/>
<line x1="1385.5" y1="1555" x2="1404" y2="1555" stroke="#222" stroke-width="3.6" stroke-linecap="butt"/>
<line x1="1385.5" y1="1718.8" x2="1404" y2="1718.8" stroke="#222" stroke-width="3.6" stroke-linecap="butt"/>
<line x1="1385.5" y1="1882.6" x2="1404" y2="1882.6" stroke="#222" stroke-width="3.6" stroke-linecap="butt"/>
<line x1="1395.5" y1="1309.3" x2="1404" y2="1309.3" stroke="#222" stroke-width="3.4" stroke-linecap="butt"/>
<line x1="1395.5" y1="1473.1" x2="1404" y2="1473.1" stroke="#222" stroke-width="3.4" stroke-linecap="butt"/>
<line x1="1395.5" y1="1636.9" x2="1404" y2="1636.9" stroke="#222" stroke-width="3.4" stroke-linecap="butt"/>
<line x1="1395.5" y1="1800.7" x2="1404" y2="1800.7" stroke="#222" stroke-width="3.4" stroke-linecap="butt"/>
<line x1="1395.5" y1="1964.5" x2="1404" y2="1964.5" stroke="#222" stroke-width="3.4" stroke-linecap="butt"/>
<line x1="1521.2" y1="2046.8" x2="1521.2" y2="2053.5" stroke="#222" stroke-width="3.2" stroke-linecap="butt"/>
<line x1="1638" y1="2046.8" x2="1638" y2="2064" stroke="#222" stroke-width="3.2" stroke-linecap="butt"/>
<line x1="1754.8" y1="2046.8" x2="1754.8" y2="2053.5" stroke="#222" stroke-width="3.2" stroke-linecap="butt"/>
<line x1="1871.5" y1="2046.8" x2="1871.5" y2="2064" stroke="#222" stroke-width="3.2" stroke-linecap="butt"/>
<line x1="1988.2" y1="2046.8" x2="1988.2" y2="2053.5" stroke="#222" stroke-width="3.2" stroke-linecap="butt"/>
<line x1="2105" y1="2046.8" x2="2105" y2="2064" stroke="#222" stroke-width="3.2" stroke-linecap="butt"/>
<line x1="2221.8" y1="2046.8" x2="2221.8" y2="2053.5" stroke="#222" stroke-width="3.2" stroke-linecap="butt"/>
<line x1="2338.5" y1="2046.8" x2="2338.5" y2="2064" stroke="#222" stroke-width="3.2" stroke-linecap="butt"/>
<line x1="1425" y1="1266" x2="1717.8" y2="1266" stroke="#000" stroke-width="6.6" stroke-linecap="round"/>
<line x1="1759.7" y1="1279.1" x2="1827.8" y2="1326.5" stroke="#000" stroke-width="4.2" stroke-linecap="round"/>
<line x1="1869.7" y1="1339.2" x2="1882" y2="1338.9" stroke="#000" stroke-width="4" stroke-linecap="round"/>
<line x1="1928" y1="1339.1" x2="2046.3" y2="1342.4" stroke="#000" stroke-width="4.5" stroke-linecap="round"/>
<line x1="2092.2" y1="1341.4" x2="2139.7" y2="1338.1" stroke="#000" stroke-width="4" stroke-linecap="round"/>
<line x1="2185.6" y1="1335.6" x2="2210" y2="1334.6" stroke="#000" stroke-width="3.6" stroke-linecap="round"/>
<line x1="2256" y1="1333.7" x2="2303" y2="1333.7" stroke="#000" stroke-width="3.6" stroke-linecap="round"/>
<line x1="1425" y1="1409.3" x2="1717.4" y2="1402.5" stroke="#000" stroke-width="4.8" stroke-linecap="round"/>
<line x1="1744.8" y1="1424.6" x2="1841.8" y2="1922.4" stroke="#000" stroke-width="5.2" stroke-linecap="round"/>
<line x1="1869.2" y1="1945.8" x2="1882.4" y2="1946.2" stroke="#000" stroke-width="4.4" stroke-linecap="round"/>
<line x1="1927.7" y1="1952.6" x2="2048" y2="1982.8" stroke="#000" stroke-width="4.4" stroke-linecap="round"/>
<line x1="2093.1" y1="1985.1" x2="2141.1" y2="1978.1" stroke="#000" stroke-width="4.2" stroke-linecap="round"/>
<line x1="2185.7" y1="1967.5" x2="2211.9" y2="1958.6" stroke="#000" stroke-width="4.4" stroke-linecap="round"/>
<line x1="2256.4" y1="1955" x2="2303.9" y2="1962.6" stroke="#000" stroke-width="4.4" stroke-linecap="round"/>
<g clip-path="url(#cD)">
<rect x="1387.5" y="1250.8" width="29" height="30.5"/>
<rect x="1726" y="1250.8" width="29.5" height="30.5"/>
<rect x="1831" y="1323.8" width="31.5" height="31.5"/>
<rect x="1889.5" y="1323.8" width="31" height="29.5"/>
<rect x="2053.6" y="1327.5" width="31.5" height="31"/>
<rect x="2147.6" y="1320.8" width="30" height="31.5"/>
<rect x="2219.5" y="1318.2" width="27" height="31"/>
<rect x="2309" y="1318.2" width="34" height="31"/>
<circle cx="1402" cy="1409.8" r="16.5"/>
<circle cx="1740.4" cy="1402" r="16.5"/>
<circle cx="1846.2" cy="1945" r="16.5"/>
<circle cx="1905.4" cy="1947" r="16.5"/>
<circle cx="2070.3" cy="1988.4" r="16.5"/>
<circle cx="2163.9" cy="1974.8" r="16.5"/>
<circle cx="2233.7" cy="1951.3" r="16.5"/>
<circle cx="2326.6" cy="1966.3" r="16.5"/>
</g>
<text x="1319.5" y="1240" font-size="36.5" font-weight="bold" font-family='"Liberation Sans", Arial, sans-serif' text-anchor="start" textLength="54.5" lengthAdjust="spacingAndGlyphs" stroke="#000" stroke-width="0.9">2.5</text>
<text x="1319.5" y="1403.8" font-size="36.5" font-weight="bold" font-family='"Liberation Sans", Arial, sans-serif' text-anchor="start" textLength="54.5" lengthAdjust="spacingAndGlyphs" stroke="#000" stroke-width="0.9">2.0</text>
<text x="1319.5" y="1567.6" font-size="36.5" font-weight="bold" font-family='"Liberation Sans", Arial, sans-serif' text-anchor="start" textLength="54.5" lengthAdjust="spacingAndGlyphs" stroke="#000" stroke-width="0.9">1.5</text>
<text x="1319.5" y="1731.4" font-size="36.5" font-weight="bold" font-family='"Liberation Sans", Arial, sans-serif' text-anchor="start" textLength="54.5" lengthAdjust="spacingAndGlyphs" stroke="#000" stroke-width="0.9">1.0</text>
<text x="1319.5" y="1895.2" font-size="36.5" font-weight="bold" font-family='"Liberation Sans", Arial, sans-serif' text-anchor="start" textLength="54.5" lengthAdjust="spacingAndGlyphs" stroke="#000" stroke-width="0.9">0.5</text>
<text x="1319.5" y="2059" font-size="36.5" font-weight="bold" font-family='"Liberation Sans", Arial, sans-serif' text-anchor="start" textLength="54.5" lengthAdjust="spacingAndGlyphs" stroke="#000" stroke-width="0.9">0.0</text>
<text x="1392.8" y="2105.8" font-size="41" font-weight="normal" font-family='"Liberation Sans", Arial, sans-serif' text-anchor="start" textLength="19" lengthAdjust="spacingAndGlyphs" stroke="#000" stroke-width="1.3">0</text>
<text x="1625.5" y="2105.8" font-size="41" font-weight="normal" font-family='"Liberation Sans", Arial, sans-serif' text-anchor="start" textLength="19" lengthAdjust="spacingAndGlyphs" stroke="#000" stroke-width="1.3">2</text>
<text x="1860" y="2105.8" font-size="41" font-weight="normal" font-family='"Liberation Sans", Arial, sans-serif' text-anchor="start" textLength="19" lengthAdjust="spacingAndGlyphs" stroke="#000" stroke-width="1.3">4</text>
<text x="2095.5" y="2105.8" font-size="41" font-weight="normal" font-family='"Liberation Sans", Arial, sans-serif' text-anchor="start" textLength="19" lengthAdjust="spacingAndGlyphs" stroke="#000" stroke-width="1.3">6</text>
<text x="2327" y="2105.8" font-size="41" font-weight="normal" font-family='"Liberation Sans", Arial, sans-serif' text-anchor="start" textLength="19" lengthAdjust="spacingAndGlyphs" stroke="#000" stroke-width="1.3">8</text>
<text x="1669.7" y="2155" font-size="50" font-weight="normal" font-family='"Liberation Sans", Arial, sans-serif' text-anchor="start" textLength="367" lengthAdjust="spacingAndGlyphs" stroke="#000" stroke-width="2.1" stroke-linejoin="round">Pressure (GPa)</text>
<text x="1300" y="1986" font-size="49" font-weight="normal" font-family='"Liberation Sans", Arial, sans-serif' text-anchor="start" textLength="702" lengthAdjust="spacing" transform="rotate(-90 1300 1986)" stroke="#000" stroke-width="1.9" stroke-linejoin="round">Quadrupole Splitting (mm/s)</text>
</g>
<text x="2242.5" y="1418" font-size="73" font-weight="bold" font-family='"Liberation Serif", "Times New Roman", serif' text-anchor="start" >M1</text>
<text x="2229.5" y="1914.2" font-size="73.5" font-weight="bold" font-family='"Liberation Serif", "Times New Roman", serif' text-anchor="start" >M2</text>
<text x="1770" y="2258" font-size="86" letter-spacing="-2" font-family='"Liberation Serif", "Times New Roman", serif'><tspan dy="-0.5">(</tspan><tspan font-weight="bold" font-size="90" dy="0.5">d</tspan><tspan dy="-0.5">)</tspan></text>
</svg>
</body>
</html>
